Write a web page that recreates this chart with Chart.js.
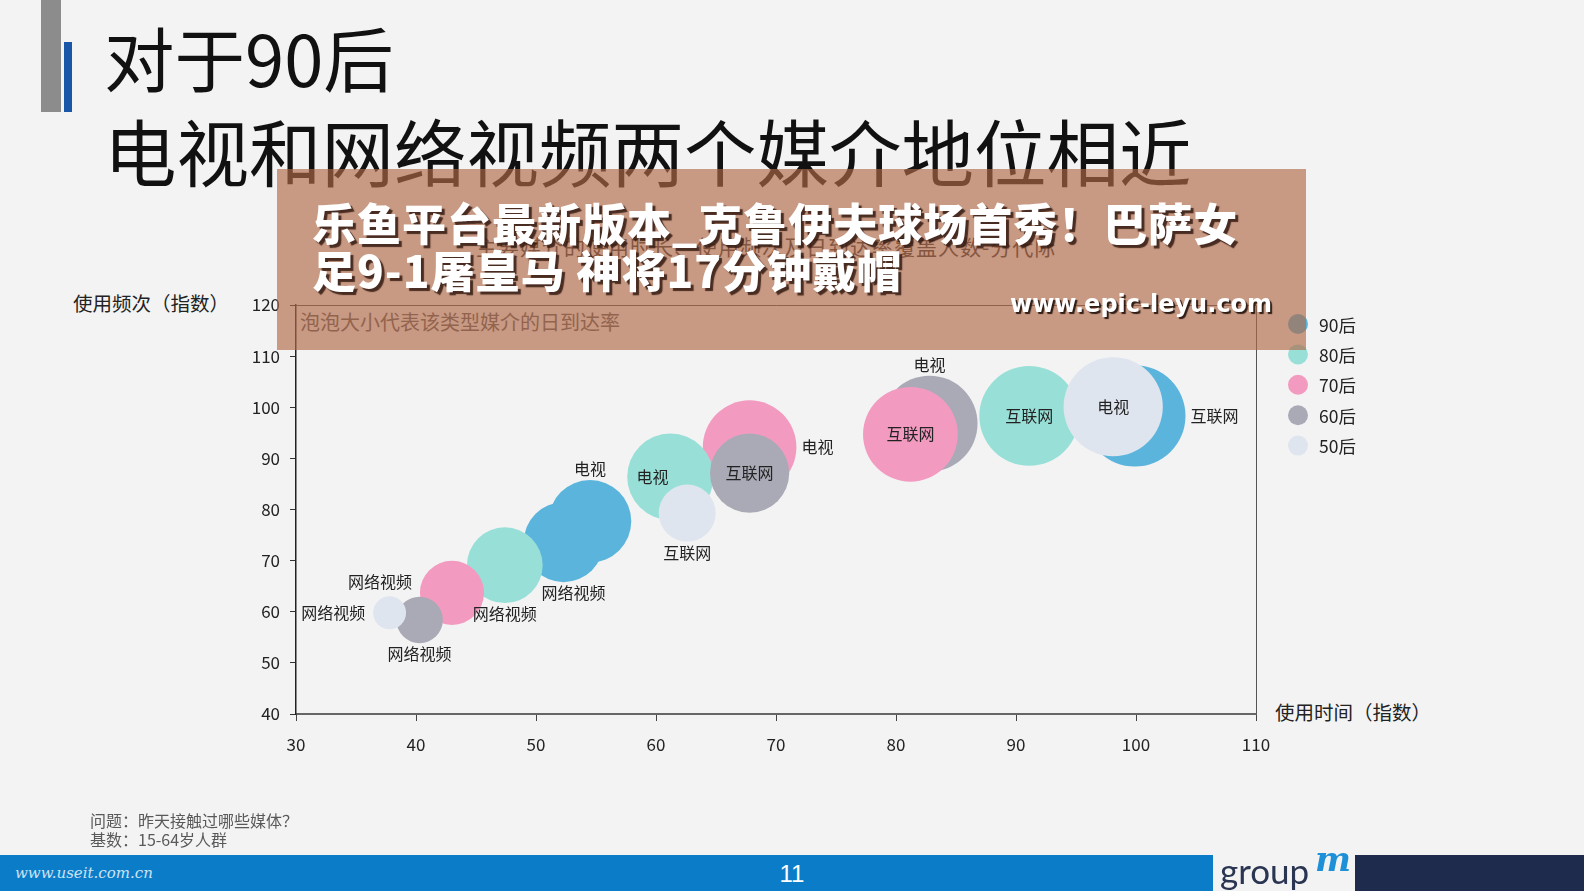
<!DOCTYPE html>
<html><head><meta charset="utf-8">
<script src="https://cdn.jsdelivr.net/npm/chart.js@4.4.1/dist/chart.umd.min.js"></script>
<style>
html,body{margin:0;padding:0;}
body{width:1584px;height:891px;position:relative;overflow:hidden;background:#f3f3f3;font-family:"Noto Sans CJK SC","Noto Sans",sans-serif;color:#111;}
.abs{position:absolute;white-space:nowrap;line-height:1;}
#c{position:absolute;left:0;top:0;}
</style></head><body>
<div class="abs" style="left:41px;top:0;width:20px;height:112px;background:#8c8c8c"></div>
<div class="abs" style="left:64px;top:42px;width:8px;height:70px;background:#1a56a8"></div>
<div class="abs" style="left:104px;top:21px;font-size:70.5px;">对于90后</div>
<div class="abs" style="left:104px;top:114px;font-size:72.5px;">电视和网络视频两个媒介地位相近</div>
<div class="abs" style="left:476px;top:236px;font-size:21px;letter-spacing:1px;color:#333;">主要媒介的使用时长、使用频次及日到达率覆盖人数-分代际</div>

<div class="abs" style="left:73px;top:293px;font-size:19.5px;color:#222;">使用频次（指数）</div>
<div class="abs" style="left:1275px;top:702px;font-size:19.5px;color:#222;">使用时间（指数）</div>
<div class="abs" style="left:300px;top:312px;font-size:20px;color:#595959;">泡泡大小代表该类型媒介的日到达率</div>

<canvas id="c" width="1584" height="891"></canvas>

<div class="abs" style="left:90px;top:812px;font-size:16px;color:#595959;">问题：昨天接触过哪些媒体？</div>
<div class="abs" style="left:90px;top:831px;font-size:16px;color:#595959;">基数：15-64岁人群</div>

<div class="abs" style="left:0;top:855px;width:1213px;height:36px;background:#0b7dc8"></div>
<div class="abs" style="left:1355px;top:855px;width:229px;height:36px;background:#1e2b4d"></div>
<div class="abs" style="left:15px;top:866px;font-size:15px;font-style:italic;font-family:'DejaVu Serif',serif;color:rgba(255,255,255,0.8);">www.useit.com.cn</div>
<div class="abs" style="left:770px;top:862px;width:44px;text-align:center;font-size:24px;font-family:'Liberation Sans',sans-serif;color:#fff;">11</div>
<div class="abs" style="left:1220px;top:853px;font-size:35px;font-family:Lato,sans-serif;color:#2a3552;">group</div>
<div class="abs" style="left:1315px;top:842px;font-size:34px;font-style:italic;font-weight:bold;font-family:'DejaVu Serif',serif;color:#1e90d8;">m</div>

<div class="abs" style="left:277px;top:169px;width:1029px;height:181px;background:rgba(177,105,70,0.65);"></div>
<div class="abs" style="left:312px;top:200px;font-size:44px;font-weight:900;color:#fff;text-shadow:3px 3px 1px rgba(50,25,15,0.85);letter-spacing:1px;">乐鱼平台最新版本_克鲁伊夫球场首秀！巴萨女</div>
<div class="abs" style="left:312px;top:247px;font-size:44px;font-weight:900;color:#fff;text-shadow:3px 3px 1px rgba(50,25,15,0.85);letter-spacing:1px;">足9-1屠皇马  神将17分钟戴帽</div>
<div class="abs" style="left:1010px;top:292px;font-size:24px;font-weight:bold;font-family:'DejaVu Sans',sans-serif;color:#fff;text-shadow:2px 2px 1px rgba(30,15,10,0.9);">www.epic-leyu.com</div>

<script>
// ---- data ----
const generations = ['90后', '80后', '70后', '60后', '50后'];
const mediaNames = ['网络视频', '电视', '互联网'];
// usage time index (x), per medium in mediaNames order
const time90 = [52.3, 54.5, 99.9];
const time80 = [47.4, 61.2, 91.1];
const time70 = [43.0, 67.8, 81.2];
const time60 = [40.3, 82.8, 67.8];
const time50 = [37.8, 98.1, 62.6];
// usage frequency index (y)
const freq90 = [73.6, 77.7, 98.3];
const freq80 = [69.1, 86.4, 98.3];
const freq70 = [63.7, 92.2, 94.7];
const freq60 = [58.4, 96.8, 87.1];
const freq50 = [59.8, 100.1, 79.3];
// daily reach (bubble size)
const reach90 = [59, 63, 95];
const reach80 = [53, 69, 92];
const reach70 = [38, 81, 83];
const reach60 = [20, 85, 58];
const reach50 = [10, 91, 30];
// axis ticks
const xTicks = [30, 40, 50, 60, 70, 80, 90, 100, 110];
const yTicks = [40, 50, 60, 70, 80, 90, 100, 110, 120];

// ---- styling ----
const colors = ['#5bb4dc', '#98e0d7', '#f39ac0', '#aaaab6', '#dfe5ef'];
const labelPlacement = [
  [['below', 10, 0], ['above', 0, 0], ['right', 0, 0]],
  [['below', 0, 0], ['center', -18, 0], ['center', 0, 0]],
  [['left', -3, -11], ['right', 0, 0], ['center', 0, 0]],
  [['below', 0, 0], ['above', 0, 0], ['center', 0, 0]],
  [['left', -3, 0], ['center', 0, 0], ['below', 0, 0]]
];
const sizeK = 5.2;

const times = [time90, time80, time70, time60, time50];
const freqs = [freq90, freq80, freq70, freq60, freq50];
const reaches = [reach90, reach80, reach70, reach60, reach50];

const pts = [];
generations.forEach((g, gi) => {
  mediaNames.forEach((m, mi) => {
    pts.push({gi, mi, x: times[gi][mi], y: freqs[gi][mi], reach: reaches[gi][mi]});
  });
});
// smaller bubbles drawn on top: first dataset is drawn last
pts.sort((a, b) => a.reach - b.reach);

const datasets = pts.map(p => ({
  label: generations[p.gi],
  gi: p.gi, mi: p.mi,
  data: [{x: p.x, y: p.y, r: sizeK * Math.sqrt(p.reach)}],
  backgroundColor: colors[p.gi],
  borderWidth: 0,
  hoverBorderWidth: 0
}));

const FONT = '"Noto Sans CJK SC", "Noto Sans", sans-serif';

const framePlugin = {
  id: 'frame',
  beforeDatasetsDraw(chart) {
    const {ctx, chartArea: a} = chart;
    ctx.save();
    ctx.strokeStyle = '#555';
    ctx.lineWidth = 1;
    ctx.beginPath();
    ctx.moveTo(a.left, a.top + 0.5);
    ctx.lineTo(a.right + 0.5, a.top + 0.5);
    ctx.lineTo(a.right + 0.5, a.bottom);
    ctx.stroke();
    ctx.restore();
  }
};

const labelPlugin = {
  id: 'bubbleLabels',
  afterDatasetsDraw(chart) {
    const ctx = chart.ctx;
    ctx.save();
    ctx.font = '16px ' + FONT;
    ctx.fillStyle = '#222';
    ctx.textBaseline = 'middle';
    chart.data.datasets.forEach((ds, di) => {
      const el = chart.getDatasetMeta(di).data[0];
      if (!el) return;
      const r = el.options.radius;
      const [pos, dx, dy] = labelPlacement[ds.gi][ds.mi];
      const txt = mediaNames[ds.mi];
      let x = el.x, y = el.y;
      if (pos === 'below') { ctx.textAlign = 'center'; y += r + 11; }
      else if (pos === 'above') { ctx.textAlign = 'center'; y -= r + 11; }
      else if (pos === 'right') { ctx.textAlign = 'left'; x += r + 5; }
      else if (pos === 'left') { ctx.textAlign = 'right'; x -= r + 5; }
      else { ctx.textAlign = 'center'; }
      ctx.fillText(txt, x + dx, y + dy);
    });
    ctx.restore();
  }
};

const legendPlugin = {
  id: 'sideLegend',
  afterDraw(chart) {
    const ctx = chart.ctx;
    const a = chart.chartArea;
    ctx.save();
    ctx.font = '17.5px ' + FONT;
    ctx.textBaseline = 'middle';
    ctx.textAlign = 'left';
    generations.forEach((g, i) => {
      const y = a.top + 19 + i * 30.4;
      ctx.fillStyle = colors[i];
      ctx.beginPath();
      ctx.arc(a.right + 42, y, 10, 0, Math.PI * 2);
      ctx.fill();
      ctx.fillStyle = '#222';
      ctx.fillText(g, a.right + 63, y + 1);
    });
    ctx.restore();
  }
};

new Chart(document.getElementById('c'), {
  type: 'bubble',
  data: {datasets},
  options: {
    responsive: false,
    animation: false,
    devicePixelRatio: 1,
    layout: {autoPadding: false, padding: {left: 236, top: 305, right: 328, bottom: 132}},
    plugins: {legend: {display: false}, tooltip: {enabled: false}},
    events: [],
    scales: {
      x: {
        type: 'linear', min: xTicks[0], max: xTicks[xTicks.length - 1],
        afterFit(s) { s.height = 45; },
        afterBuildTicks(s) { s.ticks = xTicks.map(v => ({value: v})); },
        grid: {display: true, drawOnChartArea: false, drawTicks: true, tickLength: 7, tickColor: '#444', tickWidth: 1},
        border: {display: true, color: '#666', width: 2},
        ticks: {padding: 13, color: '#222', font: {size: 17, family: FONT}}
      },
      y: {
        type: 'linear', min: yTicks[0], max: yTicks[yTicks.length - 1],
        afterFit(s) { s.width = 60; },
        afterBuildTicks(s) { s.ticks = yTicks.map(v => ({value: v})); },
        grid: {display: true, drawOnChartArea: false, drawTicks: true, tickLength: 6, tickColor: '#333', tickWidth: 1},
        border: {display: true, color: '#222', width: 1.5},
        ticks: {padding: 10, color: '#222', font: {size: 17, family: FONT}}
      }
    }
  },
  plugins: [framePlugin, labelPlugin, legendPlugin]
});
</script>
</body></html>
